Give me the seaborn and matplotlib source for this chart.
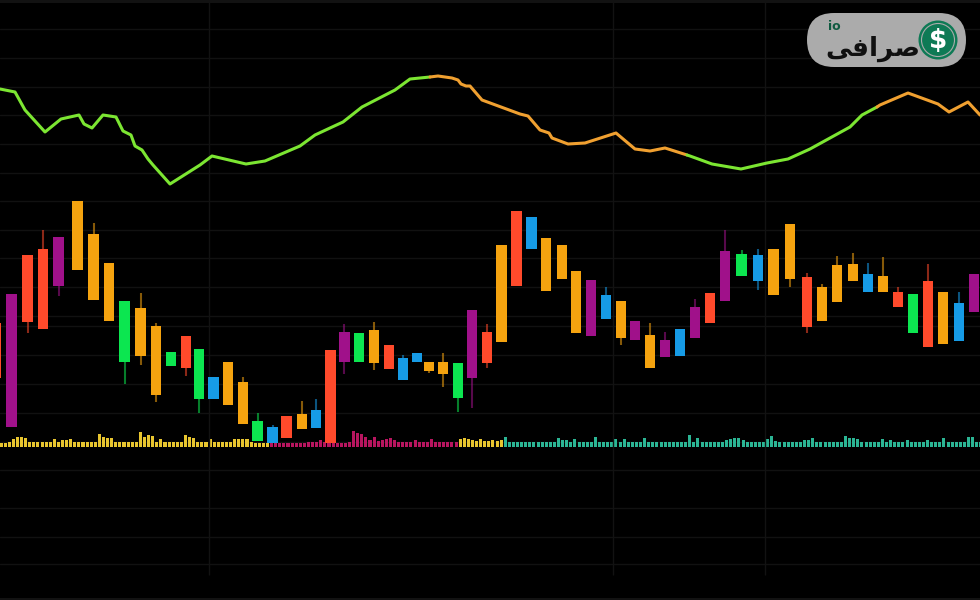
import numpy as np
import pandas as pd
import matplotlib
matplotlib.use("Agg")
import matplotlib.pyplot as plt
from matplotlib.patches import Circle, FancyBboxPatch
import seaborn as sns

sns.set_style("white")
plt.rcParams['font.family'] = ['DejaVu Sans']

ORANGE, RED, PURPLE, GREEN, BLUE = '#F5A30F', '#FF4A2B', '#A0118A', '#0CE650', '#169BE6'

candle_x = [-4.5, 11.5, 27.5, 43, 58.7, 77.5, 93.7, 109, 124.7, 140.7, 156, 171, 186, 199, 213.5, 228, 243, 257.5, 272.5, 286.7,
            302, 316, 330.5, 344.3, 359, 374, 389, 403, 417, 429, 443, 458, 472, 487, 501.7, 516.7, 531.7, 546, 562, 576,
            591, 606, 621, 635, 650, 665, 680, 695, 710, 725, 741.7, 758, 773.7, 790, 807, 822, 837, 853, 868, 883,
            898, 913, 928, 943, 959, 974]
body_top = [277, 306, 345, 351, 363, 399, 366, 337, 299, 292, 274, 248, 264, 251, 223, 238, 218, 179, 173, 184,
            186, 190, 250, 268, 267, 270, 255, 242, 247, 238, 238, 237, 290, 268, 355, 389, 383, 362, 355, 329,
            320, 305, 299, 279, 265, 260, 271, 293, 307, 349, 346, 345, 351, 376, 323, 313, 335, 336, 326, 324,
            308, 306, 319, 308, 297, 326]
body_bottom = [222, 173, 278, 271, 314, 330, 300, 279, 238, 244, 205, 234, 232, 201, 201, 195, 176, 159, 157, 162,
               171, 172, 157, 238, 238, 237, 231, 220, 238, 229, 226, 202, 222, 237, 258, 314, 351, 309, 321, 267,
               264, 281, 262, 260, 232, 243, 244, 262, 277, 299, 324, 319, 305, 321, 273, 279, 298, 319, 308, 308,
               293, 267, 253, 256, 259, 288]
wick_high = [277, 306, 345, 370, 363, 399, 377, 337, 299, 307, 277, 248, 264, 251, 223, 238, 223, 187, 175, 184,
             199, 201, 250, 276, 267, 278, 255, 245, 247, 238, 247, 237, 290, 276, 355, 389, 383, 362, 355, 329,
             320, 313, 299, 279, 277, 268, 271, 301, 307, 370, 350, 351, 351, 376, 327, 316, 344, 347, 337, 343,
             313, 306, 336, 308, 308, 326]
wick_low = [222, 173, 267, 271, 304, 330, 300, 279, 216, 235, 198, 234, 224, 187, 201, 195, 176, 159, 157, 162,
            171, 172, 157, 226, 238, 230, 231, 220, 238, 227, 213, 188, 192, 232, 258, 314, 351, 309, 321, 267,
            264, 281, 255, 260, 232, 243, 244, 262, 277, 299, 324, 310, 305, 313, 267, 279, 298, 319, 308, 308,
            293, 267, 253, 256, 259, 288]
candle_colors = [RED, PURPLE, RED, RED, PURPLE, ORANGE, ORANGE, ORANGE, GREEN, ORANGE, ORANGE, GREEN, RED, GREEN, BLUE,
                 ORANGE, ORANGE, GREEN, BLUE, RED, ORANGE, BLUE, RED, PURPLE, GREEN, ORANGE, RED, BLUE, BLUE, ORANGE,
                 ORANGE, GREEN, PURPLE, RED, ORANGE, RED, BLUE, ORANGE, ORANGE, ORANGE, PURPLE, BLUE, ORANGE, PURPLE,
                 ORANGE, PURPLE, BLUE, PURPLE, RED, PURPLE, GREEN, BLUE, ORANGE, ORANGE, RED, ORANGE, ORANGE, ORANGE,
                 BLUE, ORANGE, RED, GREEN, RED, ORANGE, BLUE, PURPLE]

# the moving average, one piece per colour
line_a_x = [0, 15, 25, 45, 61, 79, 84, 92, 103, 116, 123, 131, 135, 142, 148, 153, 170, 200, 212, 246, 265, 300, 315,
            330, 343, 362, 395, 410, 430]
line_a_y = [511, 508, 490, 468, 481, 485, 476, 472, 485, 483, 469, 465, 454, 450, 441, 435, 416, 435, 444, 436, 439,
            454, 465, 472, 478, 493, 510, 521, 523]
line_b_x = [430, 438, 452, 458, 461, 466, 470, 482, 520, 528, 540, 549, 552, 568, 585, 616, 635, 650, 665, 687]
line_b_y = [523, 524, 522, 520, 516, 514, 514, 500, 486, 484, 470, 467, 462, 456, 457, 467, 451, 449, 452, 445]
line_c_x = [687, 690, 712, 741, 767, 788, 810, 850, 862, 877]
line_c_y = [445, 444, 436, 431, 437, 441, 451, 473, 485, 493]
line_d_x = [877, 880, 908, 938, 949, 968, 980]
line_d_y = [493, 495, 507, 496, 488, 498, 485]

volume = [4, 4, 5, 8, 10, 10, 9, 5, 5, 5, 5, 5, 5, 8, 5, 7, 7, 8, 5, 5,
          5, 5, 5, 5, 13, 10, 9, 9, 5, 5, 5, 5, 5, 5, 15, 10, 12, 11, 5, 8,
          5, 5, 5, 5, 5, 12, 10, 9, 5, 5, 5, 8, 5, 5, 5, 5, 5, 8, 8, 8,
          8, 5, 4, 4, 4, 4, 4, 4, 4, 4, 4, 4, 4, 4, 4, 5, 5, 5, 7, 5,
          4, 4, 4, 4, 4, 5, 16, 14, 13, 10, 7, 10, 6, 7, 8, 9, 7, 5, 5, 5,
          5, 7, 5, 5, 5, 8, 5, 5, 5, 5, 5, 5, 8, 9, 8, 7, 6, 8, 6, 6,
          7, 6, 7, 10, 5, 5, 5, 5, 5, 5, 5, 5, 5, 5, 5, 5, 9, 7, 7, 5,
          8, 5, 5, 5, 5, 10, 5, 5, 5, 5, 8, 5, 8, 5, 5, 5, 5, 9, 5, 5,
          5, 5, 5, 5, 5, 5, 5, 5, 12, 5, 9, 5, 5, 5, 5, 5, 5, 7, 8, 9,
          9, 7, 5, 5, 5, 5, 5, 8, 11, 6, 5, 5, 5, 5, 5, 5, 7, 7, 9, 5,
          5, 5, 5, 5, 5, 5, 11, 9, 9, 8, 5, 5, 5, 5, 5, 8, 5, 7, 5, 5,
          5, 7, 5, 5, 5, 5, 7, 5, 5, 5, 9, 5, 5, 5, 5, 5, 10, 10, 5, 5]
volume_breaks = [66, 112, 123]
volume_phases = ['first', 'second', 'third', 'fourth']
volume_palette = {'first': '#E8C52F', 'second': '#B8155F', 'third': '#E8C52F', 'fourth': '#2BB594'}

grid_y = [571, 542, 513, 485, 456, 427, 399, 370, 342, 313, 284, 274, 245, 216, 187, 158, 130, 92, 63, 36]
grid_x = [209, 613, 765]

fig = plt.figure(figsize=(9.8, 6), dpi=100, facecolor='black')
ax_vol = fig.add_axes([0, 0, 1, 1], facecolor='black')
ax = fig.add_axes([0, 0, 1, 1], facecolor='none')

vol_df = pd.DataFrame({'bar': np.arange(len(volume)), 'volume': volume})
vol_df['phase'] = np.array(volume_phases)[np.searchsorted(volume_breaks, vol_df['bar'], side='right')]
sns.barplot(data=vol_df, x='bar', y='volume', hue='phase', palette=volume_palette, dodge=False,
            native_scale=True, width=0.74, legend=False, saturation=1, linewidth=0, ax=ax_vol)
ax_vol.set_xlim(-0.25, 238.8)
ax_vol.set_ylim(-153, 447)
ax_vol.axis('off')

ax.set_xlim(0, 980)
ax.set_ylim(0, 600)
ax.axis('off')

for y in grid_y:
    ax_vol.axhline(y - 153, color='#111111', lw=1, zorder=0)
ax.vlines(grid_x, 25, 600, color='#121212', lw=1, zorder=0)
ax.axhspan(597.5, 600, color='#121212', lw=0, zorder=0)
ax.axhspan(0, 2, color='#121212', lw=0, zorder=0)

bottoms = np.array(body_bottom)
tops = np.array(body_top)
ax.vlines(candle_x, wick_low, wick_high, colors=candle_colors, lw=1.5, alpha=0.55, zorder=2)
ax.bar(candle_x, tops - bottoms, bottom=bottoms, width=10.6, color=candle_colors, lw=0, zorder=3)

# same series, each piece gets its own colour
for xs, ys, col in [(line_a_x, line_a_y, '#7CE632'), (line_b_x, line_b_y, '#F0A030'),
                    (line_c_x, line_c_y, '#7CE632'), (line_d_x, line_d_y, '#F0A030')]:
    sns.lineplot(x=xs, y=ys, color=col, lw=2.2, sort=False, estimator=None, ax=ax, zorder=4)
ax.set_xlim(0, 980)
ax.set_ylim(0, 600)

# logo pill
ax.add_patch(FancyBboxPatch((807, 533), 159, 54, boxstyle='round,pad=0,rounding_size=27', fc='#ABABAB', ec='none', zorder=5))
ax.add_patch(Circle((938, 560), 19.5, fc='#0E7A55', ec='none', zorder=6))
ax.add_patch(Circle((938, 560), 16.5, fc='none', ec='#ABABAB', lw=0.8, zorder=7))
ax.text(938, 559.5, '$', color='white', fontsize=19, fontweight='bold', ha='center', va='center', zorder=8)
ax.text(873, 551, '\ufbfd\ufed3\ufe8d\ufeae\ufebb', color='#101010', fontsize=19, fontweight='bold',
        ha='center', va='center', zorder=8)
ax.text(834, 574, 'io', color='#0E5A40', fontsize=9, fontweight='bold', ha='center', va='center', zorder=8)

fig.savefig('out.png', dpi=100, facecolor='black')
